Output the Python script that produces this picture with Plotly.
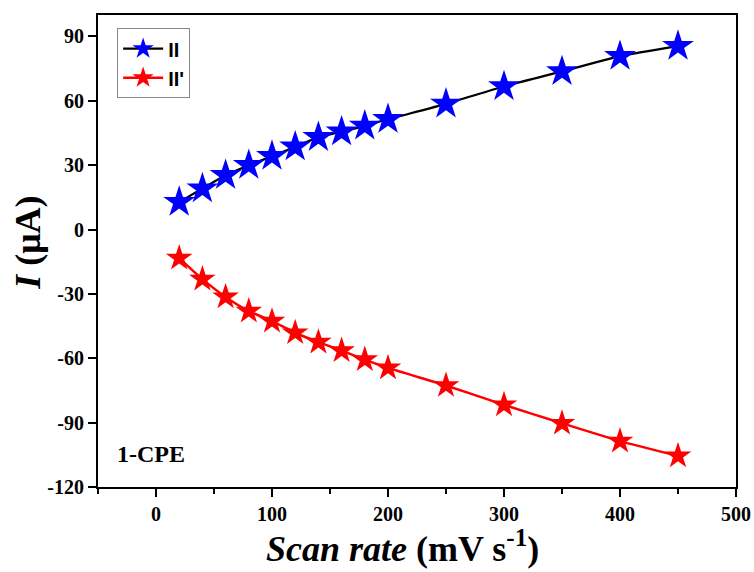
import plotly.graph_objects as go

scan_rate = [20, 40, 60, 80, 100, 120, 140, 160, 180, 200, 250, 300, 350, 400, 450]
peak_II = [12.8, 19.1, 25.3, 30.0, 34.2, 38.6, 43.0, 45.6, 48.3, 51.4, 58.6, 66.7, 73.7, 80.8, 85.5]
peak_IIp = [-13.3, -23.1, -31.4, -38.0, -42.7, -48.1, -52.5, -56.4, -60.6, -64.5, -72.7, -81.7, -90.3, -98.6, -105.5]
x_ticks = [0, 100, 200, 300, 400, 500]
y_ticks = [-120, -90, -60, -30, 0, 30, 60, 90]

serif = "Liberation Serif, Times New Roman, serif"
sans = "Liberation Sans, Arial, sans-serif"

fig = go.Figure()
fig.add_trace(go.Scatter(
    x=scan_rate, y=peak_II, name="<b>II</b>", mode="lines+markers",
    line=dict(color="black", width=2.2, shape="spline", smoothing=0.6),
    marker=dict(symbol="star", size=24, color="blue", line=dict(width=0)),
))
fig.add_trace(go.Scatter(
    x=scan_rate, y=peak_IIp, name="<b>II'</b>", mode="lines+markers",
    line=dict(color="red", width=2.5, shape="spline", smoothing=0.6),
    marker=dict(symbol="star", size=20, color="red", line=dict(width=0)),
))

axis_common = dict(
    showline=True, linecolor="black", linewidth=2, mirror=True,
    ticks="outside", ticklen=8, tickwidth=2, tickcolor="black",
    showgrid=False, zeroline=False, automargin=False,
    tickfont=dict(family=serif, size=20, color="black"),
)

fig.update_xaxes(
    range=[-50, 500], tickvals=x_ticks, ticktext=[f"<b>{v}</b>" for v in x_ticks],
    minor=dict(ticks="outside", ticklen=5, tickwidth=2, tickcolor="black", dtick=50, tick0=0),
    **axis_common,
)
fig.update_yaxes(
    range=[-120, 100], tickvals=y_ticks, ticktext=[f"<b>{v}</b>" for v in y_ticks],
    **axis_common,
)

# axis titles
fig.add_annotation(
    x=0.4765, y=-0.127, xref="paper", yref="paper", xanchor="center", yanchor="middle",
    text="<b><i>Scan rate</i> (mV s<sup>-1</sup>)</b>", showarrow=False,
    font=dict(family=serif, size=36, color="black"),
)
fig.add_annotation(
    x=-0.11, y=0.517, xref="paper", yref="paper", xanchor="center", yanchor="middle",
    text="<b><i>I</i> (μA)</b>", showarrow=False, textangle=-90,
    font=dict(family=serif, size=36, color="black"),
)

fig.add_annotation(
    x=0.027, y=0.07, xref="paper", yref="paper", xanchor="left", yanchor="middle",
    text="<b>1-CPE</b>", showarrow=False,
    font=dict(family=serif, size=24, color="black"),
)

fig.update_layout(
    width=754, height=572,
    margin=dict(l=98, r=18, t=15, b=85),
    plot_bgcolor="white", paper_bgcolor="white",
    showlegend=True,
    legend=dict(
        x=0.03, y=0.972, xanchor="left", yanchor="top",
        bordercolor="#888888", borderwidth=1, bgcolor="white",
        font=dict(family=sans, size=20, color="black"),
        itemwidth=40, tracegroupgap=0,
    ),
)

fig.write_html("out.html", config={"displayModeBar": False},
               post_script="document.body.style.margin='0';")
